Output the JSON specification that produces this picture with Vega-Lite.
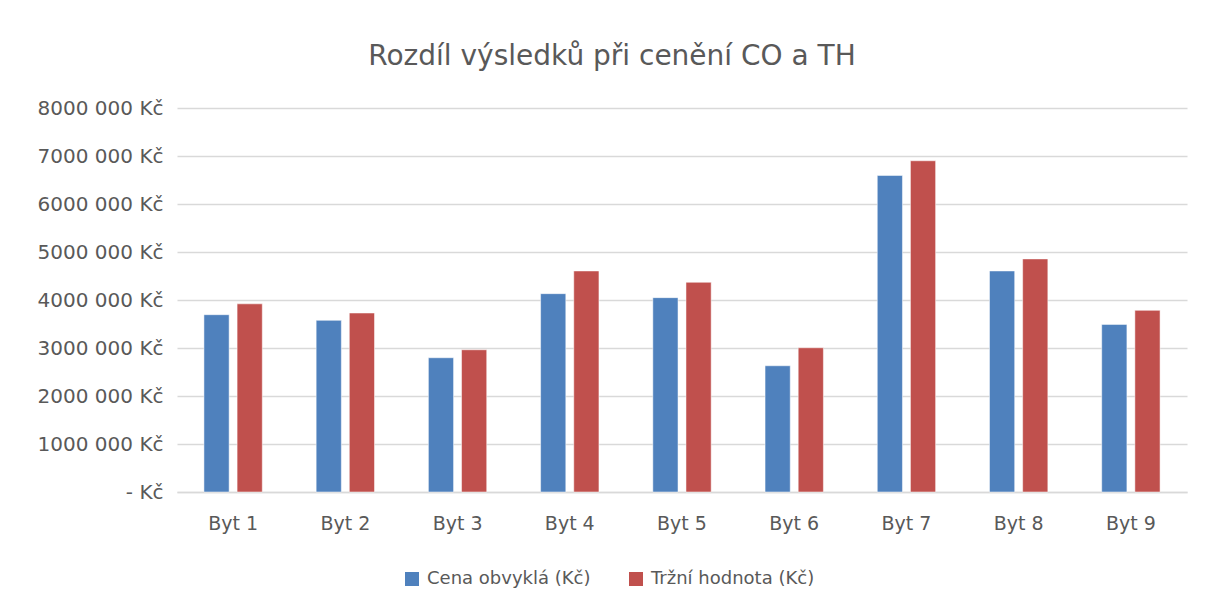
{
  "$schema": "https://vega.github.io/schema/vega-lite/v6.json",
  "autosize": {"type": "none"},
  "width": 1010,
  "height": 384,
  "padding": {"left": 177, "top": 108, "right": 21, "bottom": 118},
  "background": "white",
  "title": {
    "text": "Rozdíl výsledků při cenění CO a TH",
    "font": "DejaVu Sans",
    "fontSize": 28,
    "fontWeight": "normal",
    "color": "#595959",
    "anchor": "middle",
    "dx": -70,
    "offset": 27
  },
  "data": {
    "values": [
      {"byt": "Byt 1", "serie": "Cena obvyklá (Kč)", "hodnota": 3694000},
      {"byt": "Byt 1", "serie": "Tržní hodnota  (Kč)", "hodnota": 3920000},
      {"byt": "Byt 2", "serie": "Cena obvyklá (Kč)", "hodnota": 3576000},
      {"byt": "Byt 2", "serie": "Tržní hodnota  (Kč)", "hodnota": 3729000},
      {"byt": "Byt 3", "serie": "Cena obvyklá (Kč)", "hodnota": 2797000},
      {"byt": "Byt 3", "serie": "Tržní hodnota  (Kč)", "hodnota": 2963000},
      {"byt": "Byt 4", "serie": "Cena obvyklá (Kč)", "hodnota": 4132000},
      {"byt": "Byt 4", "serie": "Tržní hodnota  (Kč)", "hodnota": 4605000},
      {"byt": "Byt 5", "serie": "Cena obvyklá (Kč)", "hodnota": 4049000},
      {"byt": "Byt 5", "serie": "Tržní hodnota  (Kč)", "hodnota": 4369000},
      {"byt": "Byt 6", "serie": "Cena obvyklá (Kč)", "hodnota": 2630000},
      {"byt": "Byt 6", "serie": "Tržní hodnota  (Kč)", "hodnota": 3005000},
      {"byt": "Byt 7", "serie": "Cena obvyklá (Kč)", "hodnota": 6595000},
      {"byt": "Byt 7", "serie": "Tržní hodnota  (Kč)", "hodnota": 6901000},
      {"byt": "Byt 8", "serie": "Cena obvyklá (Kč)", "hodnota": 4605000},
      {"byt": "Byt 8", "serie": "Tržní hodnota  (Kč)", "hodnota": 4856000},
      {"byt": "Byt 9", "serie": "Cena obvyklá (Kč)", "hodnota": 3492000},
      {"byt": "Byt 9", "serie": "Tržní hodnota  (Kč)", "hodnota": 3784000}
    ]
  },
  "mark": {"type": "bar", "stroke": "white", "strokeOpacity": 0.5, "strokeWidth": 1},
  "encoding": {
    "x": {
      "field": "byt",
      "type": "nominal",
      "sort": null,
      "scale": {"paddingInner": 0.48, "paddingOuter": 0.24},
      "axis": {
        "title": null,
        "labelAngle": 0,
        "labelFont": "DejaVu Sans",
        "labelFontSize": 19,
        "labelColor": "#595959",
        "labelPadding": 22,
        "ticks": false,
        "domainColor": "#d9d9d9",
        "domainWidth": 1.5
      }
    },
    "xOffset": {
      "field": "serie",
      "type": "nominal",
      "sort": null,
      "scale": {"paddingInner": 0.24}
    },
    "y": {
      "field": "hodnota",
      "type": "quantitative",
      "scale": {"domain": [0, 8000000], "nice": false},
      "axis": {
        "title": null,
        "values": [0, 1000000, 2000000, 3000000, 4000000, 5000000, 6000000, 7000000, 8000000],
        "labelExpr": "datum.value == 0 ? '-  Kč' : format(datum.value / 1000000, 'd') + '000 000 Kč'",
        "labelFont": "DejaVu Sans",
        "labelFontSize": 20,
        "labelColor": "#595959",
        "labelPadding": 14,
        "ticks": false,
        "domain": false,
        "grid": true,
        "gridColor": "#d9d9d9",
        "gridWidth": 1.5
      }
    },
    "color": {
      "field": "serie",
      "type": "nominal",
      "sort": null,
      "scale": {"range": ["#4F81BD", "#C0504D"]},
      "legend": {
        "title": null,
        "orient": "none",
        "direction": "horizontal",
        "legendX": 224,
        "legendY": 462,
        "symbolType": "square",
        "symbolSize": 196,
        "symbolStrokeWidth": 0,
        "symbolOffset": 2,
        "labelOffset": 6,
        "labelLimit": 400,
        "labelFont": "DejaVu Sans",
        "labelFontSize": 18,
        "labelColor": "#595959",
        "columnPadding": 34
      }
    }
  },
  "config": {"view": {"stroke": null}}
}
